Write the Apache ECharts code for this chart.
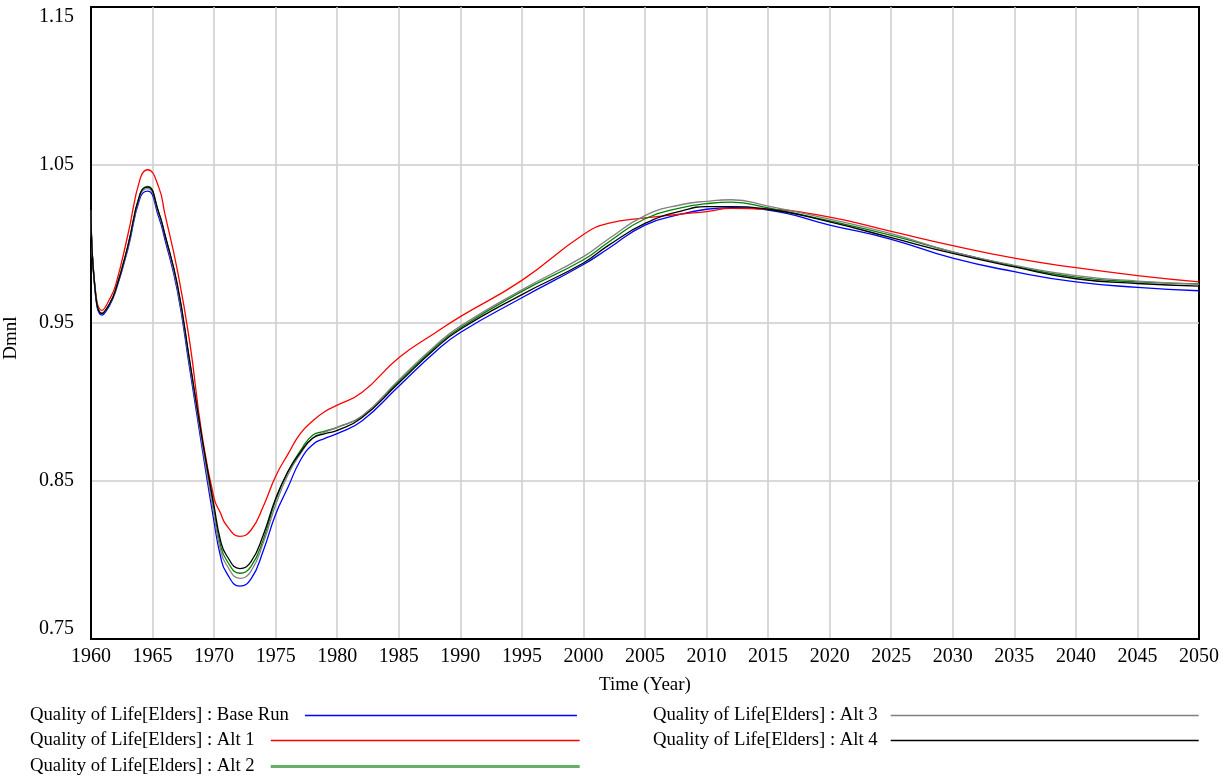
<!DOCTYPE html>
<html>
<head>
<meta charset="utf-8">
<script src="https://cdn.jsdelivr.net/npm/echarts@6/dist/echarts.min.js"></script>
<style>
html,body{margin:0;padding:0;background:#fff;}
#chart{width:1230px;height:782px;}
</style>
</head>
<body>
<div id="chart"></div>
<script>
const years = [1960, 1960.3, 1960.9, 1961.5, 1962, 1963, 1964, 1964.6, 1965.5, 1966, 1967, 1968, 1969, 1970, 1970.5, 1971, 1972.1, 1973, 1974, 1975, 1976, 1977, 1978, 1979, 1980, 1982, 1985, 1988, 1990, 1995, 2000, 2002, 2005, 2008, 2010, 2012, 2015, 2020, 2025, 2030, 2035, 2040, 2045, 2050];

const baseRun = [1.021, 0.973, 0.955, 0.961, 0.970, 0.997, 1.0295, 1.0335, 1.017, 1.003, 0.971, 0.922, 0.872, 0.824, 0.803, 0.792, 0.7835, 0.788, 0.806, 0.829, 0.846, 0.863, 0.873, 0.877, 0.880, 0.888, 0.910, 0.932, 0.944, 0.966, 0.987, 0.997, 1.012, 1.019, 1.022, 1.023, 1.0215, 1.012, 1.003, 0.991, 0.9825, 0.976, 0.9726, 0.9704];

const alt1 = [1.021, 0.975, 0.958, 0.965, 0.974, 1.006, 1.0415, 1.047, 1.036, 1.019, 0.984, 0.939, 0.880, 0.839, 0.830, 0.822, 0.815, 0.819, 0.834, 0.853, 0.867, 0.880, 0.888, 0.894, 0.898, 0.906, 0.928, 0.944, 0.954, 0.977, 1.006, 1.013, 1.0165, 1.019, 1.0205, 1.0225, 1.022, 1.017, 1.008, 0.999, 0.991, 0.985, 0.980, 0.976];

const alt2 = [1.021, 0.974, 0.956, 0.962, 0.971, 0.999, 1.032, 1.0365, 1.020, 1.006, 0.974, 0.926, 0.877, 0.831, 0.810, 0.800, 0.7916, 0.796, 0.813, 0.838, 0.856, 0.869, 0.879, 0.8815, 0.884, 0.891, 0.913, 0.935, 0.947, 0.970, 0.990, 1.001, 1.016, 1.023, 1.0255, 1.0265, 1.0228, 1.0146, 1.0055, 0.995, 0.986, 0.979, 0.976, 0.9747];

const alt3 = [1.021, 0.974, 0.956, 0.962, 0.971, 0.998, 1.031, 1.035, 1.019, 1.005, 0.973, 0.925, 0.875, 0.828, 0.807, 0.797, 0.7884, 0.793, 0.811, 0.835, 0.854, 0.867, 0.877, 0.881, 0.884, 0.891, 0.914, 0.936, 0.948, 0.971, 0.992, 1.003, 1.018, 1.025, 1.027, 1.028, 1.024, 1.0158, 1.0065, 0.995, 0.9865, 0.980, 0.9765, 0.9745];

const alt4 = [1.021, 0.974, 0.956, 0.962, 0.971, 0.999, 1.032, 1.036, 1.020, 1.006, 0.975, 0.927, 0.878, 0.834, 0.813, 0.803, 0.7946, 0.799, 0.816, 0.839, 0.856, 0.868, 0.877, 0.880, 0.882, 0.890, 0.912, 0.934, 0.946, 0.968, 0.988, 0.999, 1.013, 1.021, 1.0236, 1.0236, 1.022, 1.014, 1.004, 0.994, 0.9855, 0.978, 0.975, 0.9734];

const seriesNames = [
  'Quality of Life[Elders] : Base Run',
  'Quality of Life[Elders] : Alt 1',
  'Quality of Life[Elders] : Alt 2',
  'Quality of Life[Elders] : Alt 3',
  'Quality of Life[Elders] : Alt 4'
];
const seriesColors = ['#0000ff', '#ff0000', '#008000', '#808080', '#000000'];
const seriesValues = [baseRun, alt1, alt2, alt3, alt4];

const xTicks = {min: 1960, max: 2050, interval: 5};
const yTicks = {min: 0.75, max: 1.15, interval: 0.1};

const FONT = 'Liberation Serif';

const chart = echarts.init(document.getElementById('chart'), null, {renderer: 'canvas'});

// legend placement: [text left, top, line start, line end, text gap, line thickness, line colour]
const legendPos = [
  [30, 706, 305, 577, 11, 1.3, '#0000ff'],
  [30, 731, 268, 577, 11, 1.3, '#ff0000'],
  [30, 757, 268, 577, 11, 3, '#66b066'],
  [653, 706, 890, 1198, 8, 1.3, '#808080'],
  [653, 731, 890, 1198, 8, 1.3, '#000000']
];

const legends = seriesNames.map((n, i) => ({
  left: legendPos[i][0],
  top: legendPos[i][1],
  orient: 'horizontal',
  align: 'right',
  selectedMode: false,
  padding: 0,
  icon: 'rect',
  itemWidth: legendPos[i][3] - legendPos[i][2],
  itemHeight: legendPos[i][5],
  itemStyle: {color: legendPos[i][6], borderWidth: 0},
  lineStyle: {opacity: 0},
  data: [n],
  textStyle: {fontFamily: FONT, fontSize: 18.7, color: '#000', padding: [0, legendPos[i][4], 0, 0]}
}));

chart.setOption({
  animation: false,
  backgroundColor: '#fff',
  grid: {left: 91, right: 31, top: 7, bottom: 143, show: true, borderColor: '#000', borderWidth: 2, containLabel: false, outerBoundsMode: 'none'},
  legend: legends,
  xAxis: {
    type: 'value',
    min: xTicks.min, max: xTicks.max, interval: xTicks.interval,
    name: 'Time (Year)', nameLocation: 'middle', nameGap: 37,
    nameTextStyle: {fontFamily: FONT, fontSize: 19, color: '#000'},
    axisLine: {show: true, lineStyle: {color: '#000', width: 2}},
    axisTick: {show: false},
    axisLabel: {fontFamily: FONT, fontSize: 20, color: '#000', margin: 8, formatter: v => String(Math.round(v))},
    splitLine: {show: true, showMinLine: false, showMaxLine: false, lineStyle: {color: '#cccccc', width: 1.5}}
  },
  yAxis: {
    type: 'value',
    min: yTicks.min, max: yTicks.max, interval: yTicks.interval,
    name: 'Dmnl', nameLocation: 'middle', nameGap: 70, nameRotate: 90,
    nameTextStyle: {fontFamily: FONT, fontSize: 19, color: '#000', padding: [0, 0, 0, -30]},
    axisLine: {show: true, lineStyle: {color: '#000', width: 2}},
    axisTick: {show: false},
    axisLabel: {fontFamily: FONT, fontSize: 20, color: '#000', margin: 17,
      formatter: v => v.toFixed(2),
      verticalAlignMinLabel: 'bottom', verticalAlignMaxLabel: 'top'},
    splitLine: {show: true, showMinLine: false, showMaxLine: false, lineStyle: {color: '#cccccc', width: 1.5}}
  },
  series: seriesNames.map((n, i) => ({
    name: n,
    type: 'line',
    symbol: 'none',
    smooth: 0.5,
    color: seriesColors[i],
    lineStyle: {color: seriesColors[i], width: 1.3},
    data: years.map((y, k) => [y, seriesValues[i][k]])
  }))
});
</script>
</body>
</html>
